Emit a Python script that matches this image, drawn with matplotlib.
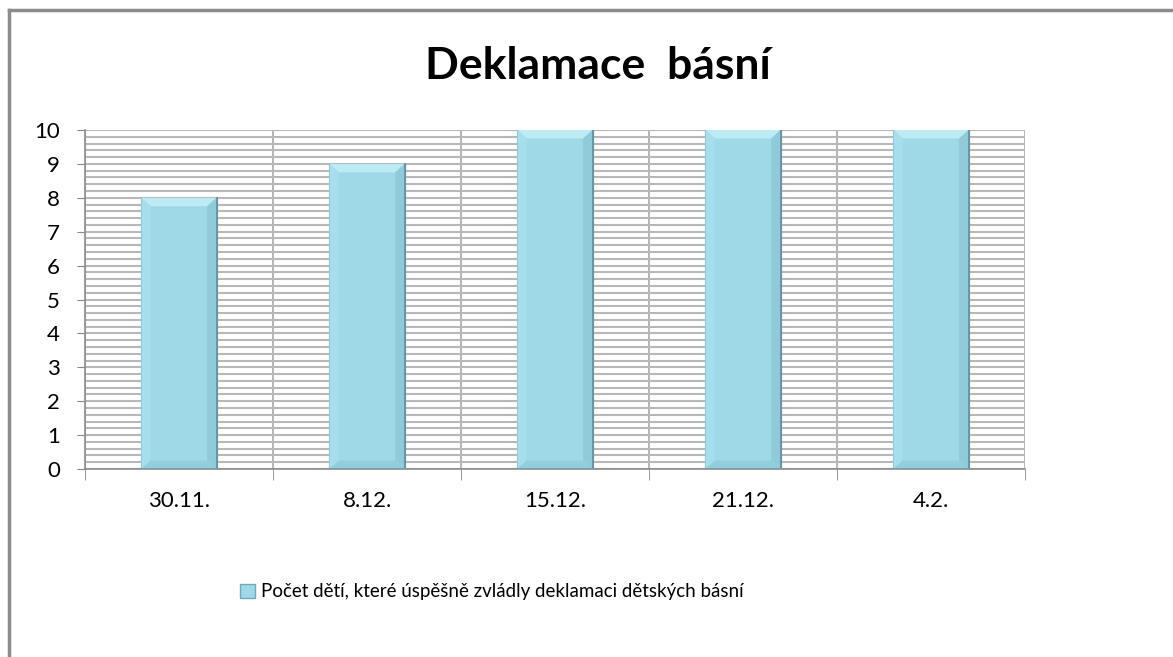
import matplotlib
matplotlib.use('Agg')
import matplotlib.pyplot as plt
import numpy as np
from matplotlib.lines import Line2D
from matplotlib.patches import Rectangle

# data
dates = ['30.11.', '8.12.', '15.12.', '21.12.', '4.2.']
counts = [8, 9, 10, 10, 10]
series_name = 'Počet dětí, které úspěšně zvládly deklamaci dětských básní'

plt.rcParams['font.family'] = ['Lato', 'DejaVu Sans']

fig = plt.figure(figsize=(11.73, 6.57), dpi=100)
ax = fig.add_axes([85/1173, 1 - 469/657, 940/1173, 339/657])

x = np.arange(len(dates))
w = 0.4
base = '#9fd9e8'
ax.bar(x, counts, width=w, color=base, edgecolor='#6fa9b8', linewidth=0.8, zorder=3)

# bevel look
bx, by = 0.05, 0.25
for xi, v in zip(x, counts):
    l, r = xi - w/2, xi + w/2
    ax.fill([l, r, r - bx, l + bx], [v, v, v - by, v - by], color='#bdebf4', lw=0, zorder=4)
    ax.fill([r, r, r - bx, r - bx], [v, 0, by, v - by], color='#8ecad8', lw=0, zorder=4)
    ax.fill([l, l, l + bx, l + bx], [v, 0, by, v - by], color='#a6deeb', lw=0, zorder=4)
    ax.fill([l, r, r - bx, l + bx], [0, 0, by, by], color='#93cedc', lw=0, zorder=4)
    ax.plot([r, r], [0, v], color='#5f8f9c', lw=1.2, zorder=5)
    ax.plot([l, r], [0, 0], color='#7a9ea8', lw=1.5, zorder=5)

ax.set_xlim(-0.5, len(dates) - 0.5)
ax.set_ylim(0, 10)
ax.set_xticks(x)
ax.set_xticklabels(dates, fontsize=16)
ax.set_xticks(np.arange(-0.5, len(dates)), minor=True)
ax.set_yticks(range(0, 11))
ax.set_yticks(np.arange(0, 10.01, 0.2), minor=True)
ax.tick_params(axis='y', which='major', labelsize=16, length=6, color='#888888', pad=12)
ax.tick_params(axis='y', which='minor', length=0)
ax.tick_params(axis='x', which='major', length=0, pad=16)
ax.tick_params(axis='x', which='minor', length=8, color='#888888')

ax.grid(True, which='both', axis='y', color='#b8b8b8', lw=1.5, zorder=0)
ax.grid(True, which='minor', axis='x', color='#a8a8a8', lw=1.2, zorder=0)
ax.set_axisbelow(True)
for s in ['top', 'right']:
    ax.spines[s].set_visible(False)
for s in ['left', 'bottom']:
    ax.spines[s].set_color('#8c8c8c')
    ax.spines[s].set_linewidth(1.2)

fig.text(598/1173, 1 - 66/657, 'Deklamace  básní', fontsize=32, fontweight='bold',
         ha='center', va='center')

handle = Rectangle((0, 0), 1, 1, facecolor=base, edgecolor='#6fa9b8')
fig.legend([handle], [series_name], loc='center', bbox_to_anchor=(492/1173, 1 - 592/657),
           frameon=False, fontsize=13.5, handlelength=0.8, handleheight=0.8, handletextpad=0.3)

# chart border (left and top visible)
fig.add_artist(Line2D([9/1173, 9/1173], [0, 1 - 10/657], color='#8c8c8c', lw=2.5))
fig.add_artist(Line2D([9/1173, 1], [1 - 10/657, 1 - 10/657], color='#8c8c8c', lw=2.5))

fig.savefig('out.png', dpi=100)
